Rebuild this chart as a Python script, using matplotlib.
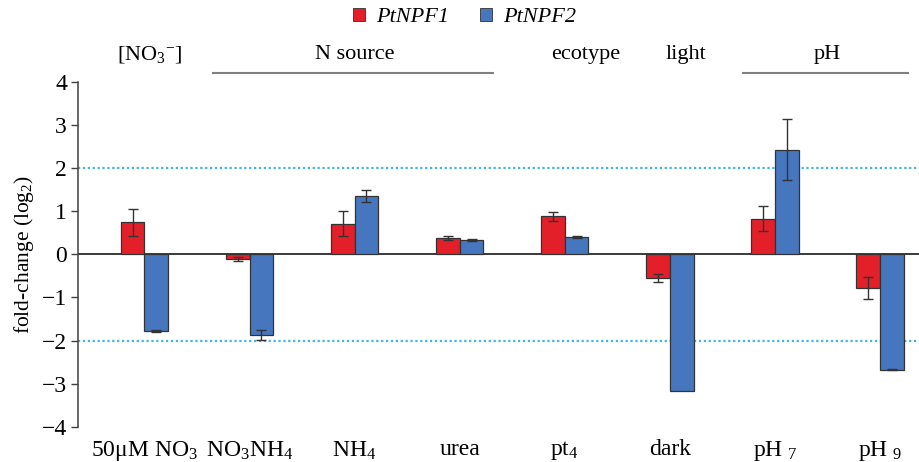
import numpy as np
import matplotlib
matplotlib.use("Agg")
import matplotlib.pyplot as plt
from matplotlib.patches import Patch
from matplotlib.transforms import blended_transform_factory

plt.rcParams['font.family'] = ['Liberation Serif', 'DejaVu Serif']
plt.rcParams['mathtext.fontset'] = 'custom'
plt.rcParams['mathtext.rm'] = 'Liberation Serif'
plt.rcParams['mathtext.it'] = 'Liberation Serif:italic'

# data (log2 fold-change)
categories = ['50μM NO$_3$', 'NO$_3$NH$_4$', 'NH$_4$', 'urea',
              'pt$_4$', 'dark', 'pH $_7$', 'pH $_9$']
npf1 = [0.74, -0.11, 0.71, 0.38, 0.88, -0.55, 0.83, -0.78]
npf1_err = [0.31, 0.05, 0.29, 0.05, 0.10, 0.10, 0.30, 0.26]
npf2 = [-1.78, -1.87, 1.35, 0.33, 0.40, -3.17, 2.43, -2.67]
npf2_err = [0.02, 0.11, 0.14, 0.03, 0.02, np.nan, 0.71, 0.02]

groups = ['[NO$_3$$^{-}$]', 'N source', 'ecotype', 'light', 'pH']
group_x = [0.05, 2.0, 4.2, 5.15, 6.5]

red = '#E3202A'
blue = '#4677BE'

fig = plt.figure(figsize=(9.2, 4.62), dpi=100)
ax = fig.add_axes([0.085, 0.076, 0.915, 0.747])

x = np.arange(len(categories))
w = 0.225
ax.bar(x - w / 2, npf1, w, color=red, edgecolor='#333333', linewidth=0.9, zorder=3)
ax.bar(x + w / 2, npf2, w, color=blue, edgecolor='#333333', linewidth=0.9, zorder=3)
ax.errorbar(x - w / 2, npf1, yerr=npf1_err, fmt='none', ecolor='#333333',
            elinewidth=1, capsize=3.5, capthick=1, zorder=4)
ax.errorbar(x + w / 2, npf2, yerr=npf2_err, fmt='none', ecolor='#333333',
            elinewidth=1, capsize=3.5, capthick=1, zorder=4)

ax.axhline(0, color='#3a3a3a', linewidth=1.4, zorder=2)
for yy in (2, -2):
    ax.axhline(yy, color='#3FB4E6', linestyle=(0, (1, 1.2)), linewidth=1.6, zorder=1)

ax.set_xlim(-0.63, 7.38)
ax.set_ylim(-4, 4)
ax.set_yticks(range(-4, 5))
ax.set_xticks(x)
ax.set_xticklabels(categories)
ax.tick_params(axis='x', length=0, pad=9, labelsize=17)
ax.tick_params(axis='y', direction='out', length=5, width=1, color='#404040',
               labelsize=17, pad=3)
for s in ('top', 'right', 'bottom'):
    ax.spines[s].set_visible(False)
ax.spines['left'].set_color('#404040')
ax.spines['left'].set_linewidth(1.1)
ax.set_ylabel('fold-change (log$_2$)', fontsize=15.5, labelpad=4)

# group headings above the plot
tr = blended_transform_factory(ax.transData, fig.transFigure)
for gx, g in zip(group_x, groups):
    ax.text(gx, 0.882, g, transform=tr, ha='center', va='center',
            fontsize=16, clip_on=False)
ax.plot([0.65, 3.32], [0.842, 0.842], transform=tr, color='#808080',
        linewidth=1.5, clip_on=False)
ax.plot([5.7, 7.27], [0.842, 0.842], transform=tr, color='#808080',
        linewidth=1.5, clip_on=False)

handles = [Patch(facecolor=red, edgecolor='#333333', linewidth=0.6),
           Patch(facecolor=blue, edgecolor='#333333', linewidth=0.6)]
fig.legend(handles, ['PtNPF1', 'PtNPF2'], loc='center',
           bbox_to_anchor=(0.505, 0.962), ncol=2, frameon=False,
           prop={'family': 'Liberation Serif', 'style': 'italic', 'size': 16},
           handlelength=0.55, handleheight=0.55, handletextpad=0.5,
           columnspacing=1.4)

fig.savefig('out.png', dpi=100)
